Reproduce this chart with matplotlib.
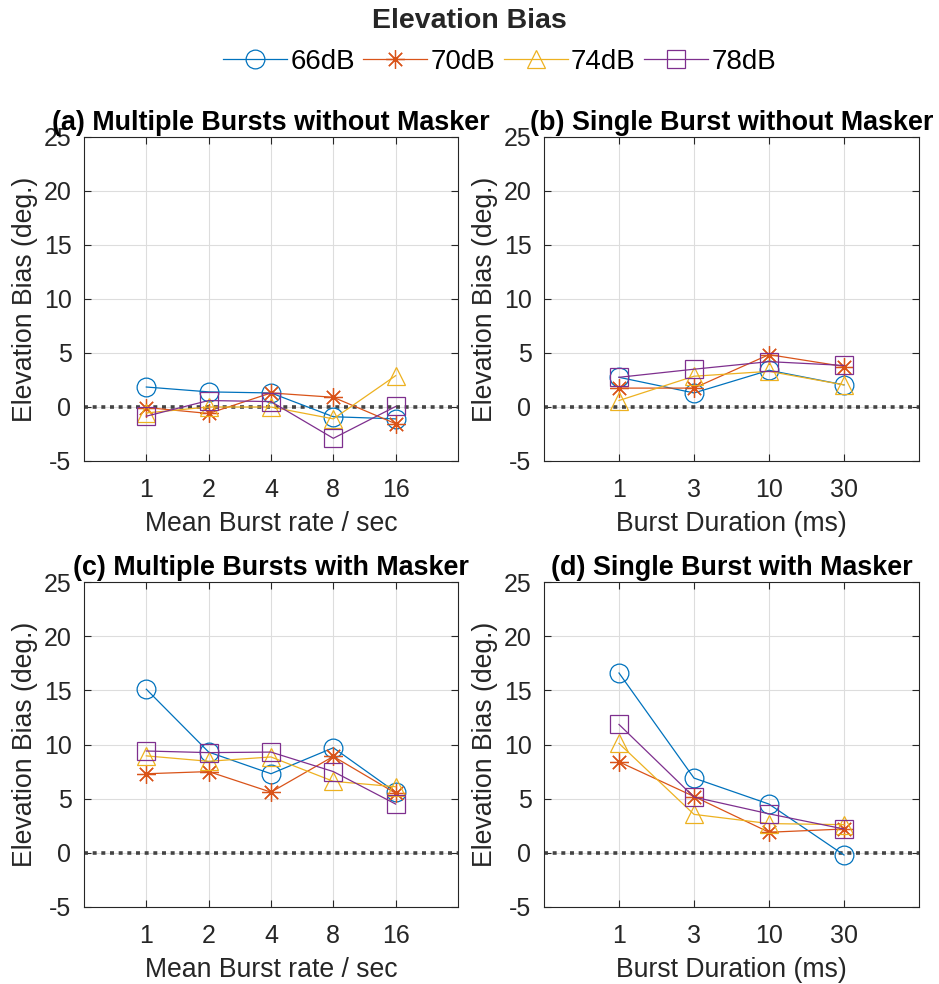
import numpy as np
import matplotlib.pyplot as plt

''' DATA '''

levels = ['66dB', '70dB', '74dB', '78dB']
colors = ['#0072BD', '#D95319', '#EDB120', '#7E2F8E']
markers = ['o', (8, 2, 0), '^', 's']

rate_labels = ['1', '2', '4', '8', '16']
dur_labels = ['1', '3', '10', '30']

# (a) multiple bursts without masker
a_66 = [1.85, 1.4, 1.3, -0.9, -1.1]
a_70 = [-0.05, -0.6, 1.3, 0.9, -1.55]
a_74 = [-0.55, 0.0, 0.0, -1.1, 2.9]
a_78 = [-0.85, 0.6, 0.5, -2.9, 0.05]

# (b) single burst without masker
b_66 = [2.75, 1.3, 3.4, 2.05]
b_70 = [1.75, 1.75, 4.85, 3.75]
b_74 = [0.6, 2.85, 3.3, 2.05]
b_78 = [2.75, 3.5, 4.2, 3.85]

# (c) multiple bursts with masker
c_66 = [15.1, 9.3, 7.3, 9.7, 5.6]
c_70 = [7.3, 7.5, 5.6, 8.9, 5.5]
c_74 = [8.95, 8.45, 8.85, 6.6, 6.1]
c_78 = [9.4, 9.25, 9.3, 7.5, 4.5]

# (d) single burst with masker
d_66 = [16.6, 6.9, 4.5, -0.2]
d_70 = [8.4, 5.2, 1.9, 2.2]
d_74 = [10.1, 3.55, 2.7, 2.6]
d_78 = [11.85, 5.15, 3.6, 2.2]

panels = [
    ('(a) Multiple Bursts without Masker', 'Mean Burst rate / sec', rate_labels, [a_66, a_70, a_74, a_78]),
    ('(b) Single Burst without Masker', 'Burst Duration (ms)', dur_labels, [b_66, b_70, b_74, b_78]),
    ('(c) Multiple Bursts with Masker', 'Mean Burst rate / sec', rate_labels, [c_66, c_70, c_74, c_78]),
    ('(d) Single Burst with Masker', 'Burst Duration (ms)', dur_labels, [d_66, d_70, d_74, d_78]),
]

''' PLOTTING '''

plt.rcParams['font.family'] = ['Liberation Sans', 'DejaVu Sans']
plt.rcParams['axes.unicode_minus'] = False

fig = plt.figure(figsize=(9.39, 9.84), dpi=100)
W, H = 939, 984
boxes = [(84, 137, 374, 324), (544, 137, 375, 324),
         (84, 582, 374, 325), (544, 582, 375, 325)]

handles = []
for (title, xlabel, labels, series), (l, t, w, h) in zip(panels, boxes):
    ax = fig.add_axes([l / W, 1 - (t + h) / H, w / W, h / H])
    x = np.arange(1, len(labels) + 1)
    ax.axhline(0, color='#444444', lw=2.6, ls=(0, (1.1, 1.3)), zorder=1)
    hs = []
    for vals, c, m, lab in zip(series, colors, markers, levels):
        ln, = ax.plot(x, vals, color=c, marker=m, ms=13.5, mfc='none', mec=c,
                      mew=0.9, lw=0.9, label=lab, zorder=3)
        hs.append(ln)
    handles = hs
    ax.set_xlim(0, len(labels) + 1)
    ax.set_ylim(-5, 25)
    ax.set_xticks(x)
    ax.set_xticklabels(labels)
    ax.set_yticks(np.arange(-5, 26, 5))
    ax.grid(True, color='#dddddd', lw=0.8)
    ax.set_axisbelow(True)
    ax.tick_params(direction='in', top=True, right=True, labelsize=18,
                   colors='#262626', length=5)
    ax.tick_params(axis='x', pad=12)
    ax.tick_params(axis='y', pad=9)
    for s in ax.spines.values():
        s.set_color('#262626')
    ax.set_title(title, fontsize=19.4, fontweight='bold', color='black', pad=5)
    ax.set_xlabel(xlabel, fontsize=19.2, color='#262626', labelpad=7)
    ax.set_ylabel('Elevation Bias (deg.)', fontsize=19.2, color='#262626', labelpad=4)

fig.suptitle('Elevation Bias', fontsize=20.5, fontweight='bold', color='#262626', y=0.992)
fig.legend(handles=handles, labels=levels, loc='center', bbox_to_anchor=(0.532, 0.937),
           ncol=4, frameon=False, fontsize=20, handlelength=2.3, columnspacing=0.3,
           handletextpad=0.12)

fig.savefig('out.png', dpi=100)
